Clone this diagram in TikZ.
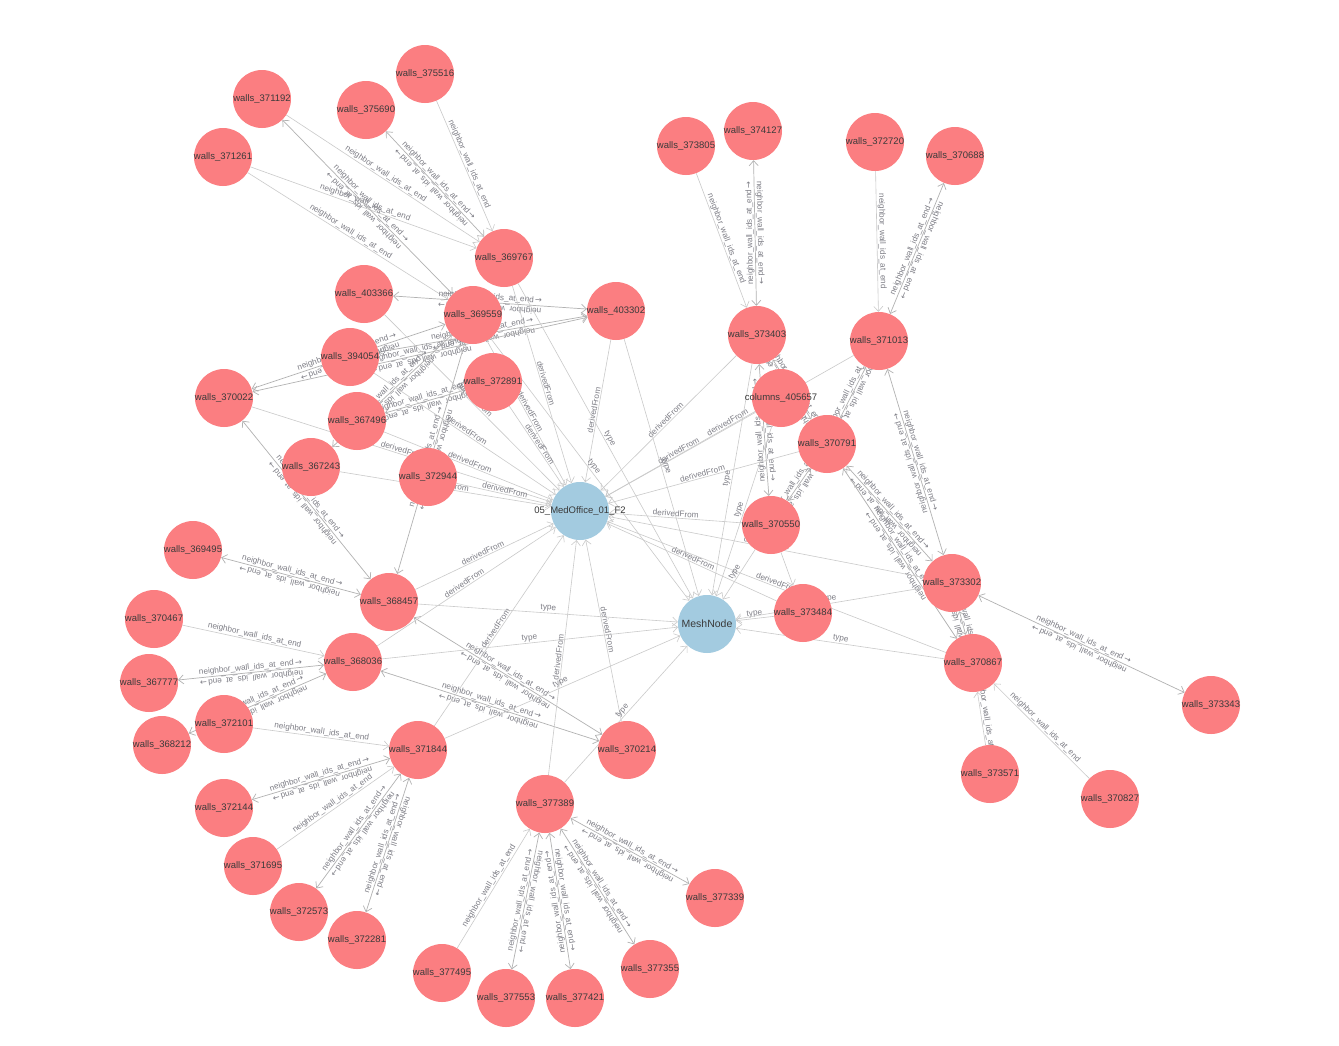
\documentclass[tikz,border=0pt]{standalone}
\usepackage{fontspec}
\setmainfont{Liberation Sans}
\newfontfamily\arrfont{DejaVu Sans}
\usetikzlibrary{arrows.meta}
\definecolor{wallred}{HTML}{FB7E81}
\definecolor{hubblue}{HTML}{A3CBE0}
\definecolor{edgegray}{HTML}{CACACA}
\definecolor{edgedark}{HTML}{B2B2B2}
\definecolor{labgray}{HTML}{7E7E86}
\definecolor{ntext}{HTML}{3A3A3A}
\pgfdeclarelayer{back}
\pgfdeclarelayer{edges}
\pgfsetlayers{back,edges,main}
\tikzset{
  >={Straight Barb[length=5pt,width=9pt]},
  wall/.style={circle, fill=wallred, minimum size=58pt, inner sep=0pt},
  hub/.style={circle, fill=hubblue, minimum size=58pt, inner sep=0pt},
  ntxt/.style={text=ntext, font=\fontsize{9.5}{10}\selectfont, inner sep=0pt},
  ed/.style={draw=edgegray, line width=0.6pt, ->},
  edd/.style={draw=edgedark, line width=0.7pt, <->},
  elab/.style={text=labgray, font=\fontsize{8.2}{9}\selectfont, inner sep=1pt, sloped, above},
}
\newcommand{\wn}[3]{\node[wall, label={[ntxt]center:walls\_#1}] (w#1) at (#2,#3) {};}
\newcommand{\nbL}{neighbor\_wall\_ids\_at\_end\,{\arrfont →}}
\newcommand{\nbS}[2]{\draw[ed] (w#1) -- node[elab]{neighbor\_wall\_ids\_at\_end} (w#2);}
\newcommand{\nbD}[2]{\draw[edd] (w#1) -- (w#2);
  \path (w#1) -- node[elab, allow upside down]{\nbL} (w#2);
  \path (w#2) -- node[elab, allow upside down]{\nbL} (w#1);}
\newcommand{\dF}[1]{\draw[ed] (#1) -- node[elab]{derivedFrom} (med);}
\newcommand{\tY}[1]{\draw[ed] (#1) -- node[elab]{type} (mesh);}
\begin{document}
\begin{tikzpicture}[x=1pt,y=-1pt]
\useasboundingbox (0,0) rectangle (1339,1045);
\begin{pgfonlayer}{back}
\fill[white] (0,0) rectangle (1339,1045);
\end{pgfonlayer}
% nodes
\wn{375516}{425}{74}
\wn{371192}{262}{99}
\wn{375690}{366}{110}
\wn{371261}{223}{157}
\wn{369767}{504}{258}
\wn{403366}{364}{294}
\wn{369559}{473}{315}
\wn{403302}{616}{311}
\wn{394054}{350}{357}
\wn{372891}{493}{382}
\wn{370022}{224}{398}
\wn{367496}{357}{421}
\wn{367243}{311}{467}
\wn{372944}{428}{477}
\node[hub, label={[ntxt]center:05\_MedOffice\_01\_F2}] (med) at (580,511) {};
\wn{369495}{193}{550}
\wn{368457}{389}{602}
\wn{370467}{154}{619}
\node[hub, label={[ntxt,font=\fontsize{10.5}{11}\selectfont]center:MeshNode}] (mesh) at (707,624) {};
\wn{368036}{353}{662}
\wn{367777}{149}{683}
\wn{372101}{224}{724}
\wn{368212}{162}{745}
\wn{371844}{418}{750}
\wn{370214}{627}{750}
\wn{372144}{224}{808}
\wn{377389}{545}{804}
\wn{371695}{253}{866}
\wn{372573}{299}{912}
\wn{372281}{357}{940}
\wn{377339}{715}{898}
\wn{377495}{442}{973}
\wn{377553}{506}{998}
\wn{377421}{575}{998}
\wn{377355}{650}{969}
\wn{373805}{686}{146}
\wn{374127}{753}{131}
\wn{372720}{875}{142}
\wn{370688}{955}{156}
\wn{373403}{757}{335}
\wn{371013}{879}{341}
\node[wall, label={[ntxt]center:columns\_405657}] (col) at (781,398) {};
\wn{370791}{827}{444}
\wn{370550}{771}{525}
\wn{373484}{803}{613}
\wn{373302}{952}{583}
\wn{370867}{973}{663}
\wn{373343}{1211}{705}
\wn{373571}{990}{774}
\wn{370827}{1110}{799}
% edges
\begin{pgfonlayer}{edges}
\nbS{375516}{369767}
\nbD{375690}{369767}
\nbS{371192}{369767}
\nbS{371261}{369767}
\nbD{371192}{369559}
\nbS{371261}{369559}
\nbD{403366}{403302}
\nbD{394054}{403302}
\nbD{370022}{403302}
\nbD{370022}{369559}
\nbD{369559}{367243}
\nbD{372891}{367496}
\nbD{368457}{369559}
\nbD{370022}{368457}
\nbD{369495}{368457}
\nbS{370467}{368036}
\nbD{367777}{368036}
\nbD{368212}{368036}
\nbS{372101}{371844}
\nbD{372144}{371844}
\nbS{371695}{371844}
\nbD{372573}{371844}
\nbD{372281}{371844}
\nbD{368457}{370214}
\nbD{368036}{370214}
\nbS{377495}{377389}
\nbD{377553}{377389}
\nbD{377421}{377389}
\nbD{377355}{377389}
\nbD{377339}{377389}
\nbS{373805}{373403}
\nbD{374127}{373403}
\nbS{372720}{371013}
\nbD{370688}{371013}
\nbD{370550}{373403}
\nbD{370791}{373403}
\nbD{370791}{371013}
\nbD{370550}{370791}
\nbD{370791}{373302}
\nbD{370791}{370867}
\nbD{371013}{373302}
\nbD{373302}{370867}
\nbD{373302}{373343}
\nbS{373571}{370867}
\nbS{370827}{370867}
\draw[ed] (w370550) -- (w373484);
\dF{w369767}\dF{w369559}\dF{w403366}\dF{w372891}\dF{w394054}\dF{w367496}
\dF{w370022}\dF{w367243}\dF{w372944}\dF{w368457}\dF{w368036}\dF{w371844}
\dF{w377389}\dF{w370214}\dF{w403302}\dF{w373403}\dF{w371013}\dF{col}
\dF{w370791}\dF{w370550}\dF{w373302}\dF{w373484}\dF{w370867}
\tY{w369767}\tY{w369559}\tY{w403302}\tY{w373403}\tY{col}\tY{w370550}
\tY{w368457}\tY{w368036}\tY{w371844}\tY{w377389}\tY{w373484}\tY{w373302}\tY{w370867}
\end{pgfonlayer}
\end{tikzpicture}
\end{document}
